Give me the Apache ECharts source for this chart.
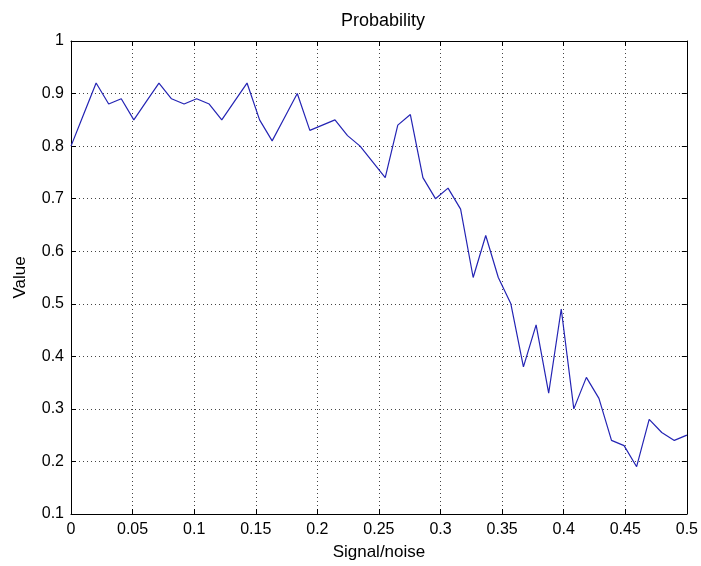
<!DOCTYPE html>
<html>
<head>
<meta charset="utf-8">
<script src="https://cdn.jsdelivr.net/npm/echarts@6/dist/echarts.min.js"></script>
<style>
  html, body { margin: 0; padding: 0; background: #fff; }
  #chart { width: 701px; height: 566px; }
</style>
</head>
<body>
<div id="chart"></div>
<script>
// signal/noise steps (50 points, 0 .. 0.5)
const snr = [
  0, 0.0102, 0.0204, 0.0306, 0.0408, 0.0510, 0.0612, 0.0714, 0.0816, 0.0918,
  0.1020, 0.1122, 0.1224, 0.1327, 0.1429, 0.1531, 0.1633, 0.1735, 0.1837, 0.1939,
  0.2041, 0.2143, 0.2245, 0.2347, 0.2449, 0.2551, 0.2653, 0.2755, 0.2857, 0.2959,
  0.3061, 0.3163, 0.3265, 0.3367, 0.3469, 0.3571, 0.3673, 0.3776, 0.3878, 0.3980,
  0.4082, 0.4184, 0.4286, 0.4388, 0.4490, 0.4592, 0.4694, 0.4796, 0.4898, 0.5
];
// probability
const prob = [
  0.80, 0.86, 0.92, 0.88, 0.89, 0.85, 0.885, 0.92, 0.89, 0.88,
  0.89, 0.88, 0.85, 0.885, 0.92, 0.85, 0.81, 0.855, 0.90, 0.83,
  0.84, 0.85, 0.82, 0.80, 0.77, 0.74, 0.84, 0.86, 0.74, 0.70,
  0.72, 0.68, 0.55, 0.63, 0.55, 0.50, 0.38, 0.46, 0.33, 0.49,
  0.30, 0.36, 0.32, 0.24, 0.23, 0.19, 0.28, 0.255, 0.24, 0.25
];
const xTicks = { min: 0, max: 0.5, step: 0.05 };
const yTicks = { min: 0.1, max: 1, step: 0.1 };

const chart = echarts.init(document.getElementById('chart'));

const font = 'Arial, "Liberation Sans", sans-serif';
const black = '#000';
const tick = { show: true, inside: true, length: 5, lineStyle: { color: black } };
const edge = { show: true, onZero: false, lineStyle: { color: black, width: 1 } };
const grid = { show: true, lineStyle: { color: '#444', type: [1, 3], width: 1 } };

chart.setOption({
  animation: false,
  backgroundColor: '#fff',
  title: {
    text: 'Probability',
    left: 378,
    top: 7,
    textAlign: 'center',
    textStyle: { fontFamily: font, fontSize: 18, fontWeight: 'normal', color: black }
  },
  grid: { left: 71, right: 14, top: 41, bottom: 47, containLabel: false },
  xAxis: [
    {
      type: 'value',
      min: xTicks.min, max: xTicks.max, interval: xTicks.step,
      name: 'Signal/noise',
      nameLocation: 'middle',
      nameGap: 30,
      nameTextStyle: { fontFamily: font, fontSize: 17, color: black },
      axisLine: edge,
      axisTick: tick,
      axisLabel: { fontFamily: font, fontSize: 16, color: black, margin: 8 },
      splitLine: grid
    },
    {
      type: 'value', position: 'top',
      min: xTicks.min, max: xTicks.max, interval: xTicks.step,
      axisLine: edge, axisTick: tick,
      axisLabel: { show: false }, splitLine: { show: false }
    }
  ],
  yAxis: [
    {
      type: 'value',
      min: yTicks.min, max: yTicks.max, interval: yTicks.step,
      name: 'Value',
      nameLocation: 'middle',
      nameRotate: 90,
      nameGap: 42,
      nameTextStyle: { fontFamily: font, fontSize: 17, color: black },
      axisLine: edge,
      axisTick: tick,
      axisLabel: { fontFamily: font, fontSize: 16, color: black, margin: 7 },
      splitLine: grid
    },
    {
      type: 'value', position: 'right',
      min: yTicks.min, max: yTicks.max, interval: yTicks.step,
      axisLine: edge, axisTick: tick,
      axisLabel: { show: false }, splitLine: { show: false }
    }
  ],
  series: [
    {
      type: 'line',
      data: snr.map((x, i) => [x, prob[i]]),
      showSymbol: false,
      symbol: 'none',
      lineStyle: { color: '#2424b4', width: 1.2 },
      z: 3
    }
  ]
});
</script>
</body>
</html>
